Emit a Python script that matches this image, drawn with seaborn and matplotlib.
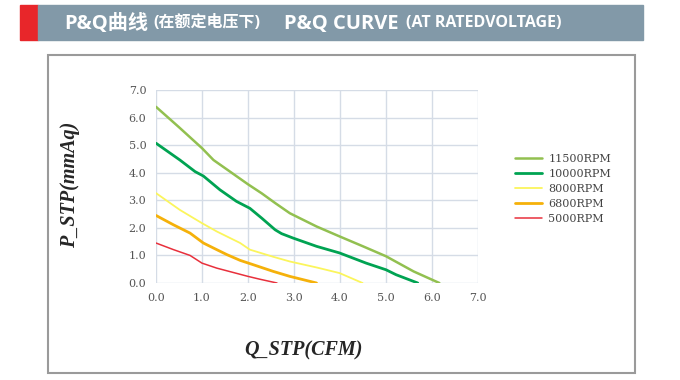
import numpy as np
import pandas as pd
import matplotlib
matplotlib.use('Agg')
import matplotlib.pyplot as plt
from matplotlib.patches import Rectangle
import seaborn as sns

# curve data (Q in CFM, P in mmAq)
q_11500 = [0.0, 0.5, 1.0, 1.25, 1.6, 2.0, 2.3, 2.59, 2.91, 3.49, 3.99, 4.5, 5.0, 5.6, 6.16]
p_11500 = [6.39, 5.65, 4.89, 4.46, 4.05, 3.58, 3.25, 2.9, 2.53, 2.05, 1.69, 1.33, 0.97, 0.42, 0.0]

q_10000 = [0.0, 0.52, 0.85, 1.03, 1.39, 1.75, 2.04, 2.3, 2.59, 2.73, 2.98, 3.49, 3.99, 4.57, 5.0, 5.22, 5.69]
p_10000 = [5.07, 4.46, 4.04, 3.88, 3.38, 2.96, 2.71, 2.35, 1.93, 1.79, 1.63, 1.33, 1.09, 0.72, 0.48, 0.3, 0.0]

q_8000 = [0.0, 0.52, 1.0, 1.32, 1.83, 2.04, 2.55, 2.91, 3.5, 3.99, 4.49]
p_8000 = [3.26, 2.65, 2.17, 1.87, 1.45, 1.21, 0.95, 0.78, 0.56, 0.36, 0.0]

q_6800 = [0.0, 0.38, 0.74, 1.03, 1.32, 1.54, 1.83, 2.12, 2.55, 2.91, 3.49]
p_6800 = [2.45, 2.11, 1.81, 1.45, 1.21, 1.03, 0.82, 0.66, 0.42, 0.24, 0.0]

q_5000 = [0.0, 0.38, 0.74, 1.0, 1.32, 2.0, 2.25, 2.63]
p_5000 = [1.45, 1.21, 1.0, 0.72, 0.54, 0.24, 0.14, 0.0]

labels = ['11500RPM', '10000RPM', '8000RPM', '6800RPM', '5000RPM']
colors = ['#92c050', '#00a352', '#fbf55c', '#f5b10a', '#e8303c']
widths = [1.8, 2.0, 1.3, 2.0, 1.1]

series = [(q_11500, p_11500), (q_10000, p_10000), (q_8000, p_8000),
          (q_6800, p_6800), (q_5000, p_5000)]

sns.set_theme(style='white')
plt.rcParams['font.family'] = ['DejaVu Serif']

fig = plt.figure(figsize=(6.8, 3.8), dpi=100)

# header band
fig.patches.append(Rectangle((20 / 680, 1 - 40 / 380), 18 / 680, 35 / 380,
                             transform=fig.transFigure, color='#e8262a', zorder=0))
fig.patches.append(Rectangle((38 / 680, 1 - 40 / 380), 605 / 680, 35 / 380,
                             transform=fig.transFigure, color='#8299a8', zorder=0))
hy = 1 - 24.5 / 380
hfam = ['Open Sans', 'Noto Sans CJK SC']
fig.text(64 / 680, hy, 'P&Q曲线', color='white', fontsize=14.5, fontweight='bold',
         family=hfam, va='center')
fig.text(153 / 680, hy + 0.004, '(在额定电压下)', color='white', fontsize=11.5,
         fontweight='bold', family=hfam, va='center')
fig.text(284 / 680, hy, 'P&Q CURVE', color='white', fontsize=14.5, fontweight='bold',
         family=hfam, va='center')
fig.text(406 / 680, hy + 0.004, '(AT RATEDVOLTAGE)', color='white', fontsize=11.5,
         fontweight='bold', family=hfam, va='center')

# chart frame
fig.patches.append(Rectangle((48 / 680, 1 - 373 / 380), 587 / 680, 318 / 380,
                             transform=fig.transFigure, fill=False,
                             edgecolor='#9a9a9a', linewidth=1.5, zorder=0))

ax = fig.add_axes([156 / 680, 1 - 283 / 380, 322 / 680, 193 / 380])

for (q, p), lab, col, lw in zip(series, labels, colors, widths):
    df = pd.DataFrame({'Q': q, 'P': p})
    sns.lineplot(data=df, x='Q', y='P', ax=ax, color=col, linewidth=lw,
                 label=lab, sort=False, estimator=None)

ax.set_xlim(0, 7)
ax.set_ylim(0, 7)
ticks = np.arange(0, 7.5, 1.0)
ax.set_xticks(ticks)
ax.set_yticks(ticks)
ax.set_xticklabels([f'{t:.1f}' for t in ticks])
ax.set_yticklabels([f'{t:.1f}' for t in ticks])
ax.tick_params(length=0, labelsize=8, labelcolor='#555555', pad=7)
ax.grid(True, color='#d5dce6', linewidth=1.0)
for s in ax.spines.values():
    s.set_visible(False)
ax.set_xlabel('')
ax.set_ylabel('')

fig.text(304 / 680, 1 - 350 / 380, 'Q_STP(CFM)', fontsize=14.5, fontweight='bold',
         fontstyle='italic', family=['Liberation Serif'], ha='center', va='center')
fig.text(70 / 680, 1 - 185 / 380, 'P_STP(mmAq)', fontsize=14.5, fontweight='bold',
         fontstyle='italic', family=['Liberation Serif'], ha='center', va='center',
         rotation=90)

leg = ax.legend(loc='upper left', bbox_to_anchor=(505 / 680, 1 - 144 / 380),
                bbox_transform=fig.transFigure, frameon=False, fontsize=8,
                handlelength=2.4, labelspacing=0.45, handletextpad=0.6)
for t in leg.get_texts():
    t.set_color('#444444')

fig.savefig('out.png', dpi=100)
